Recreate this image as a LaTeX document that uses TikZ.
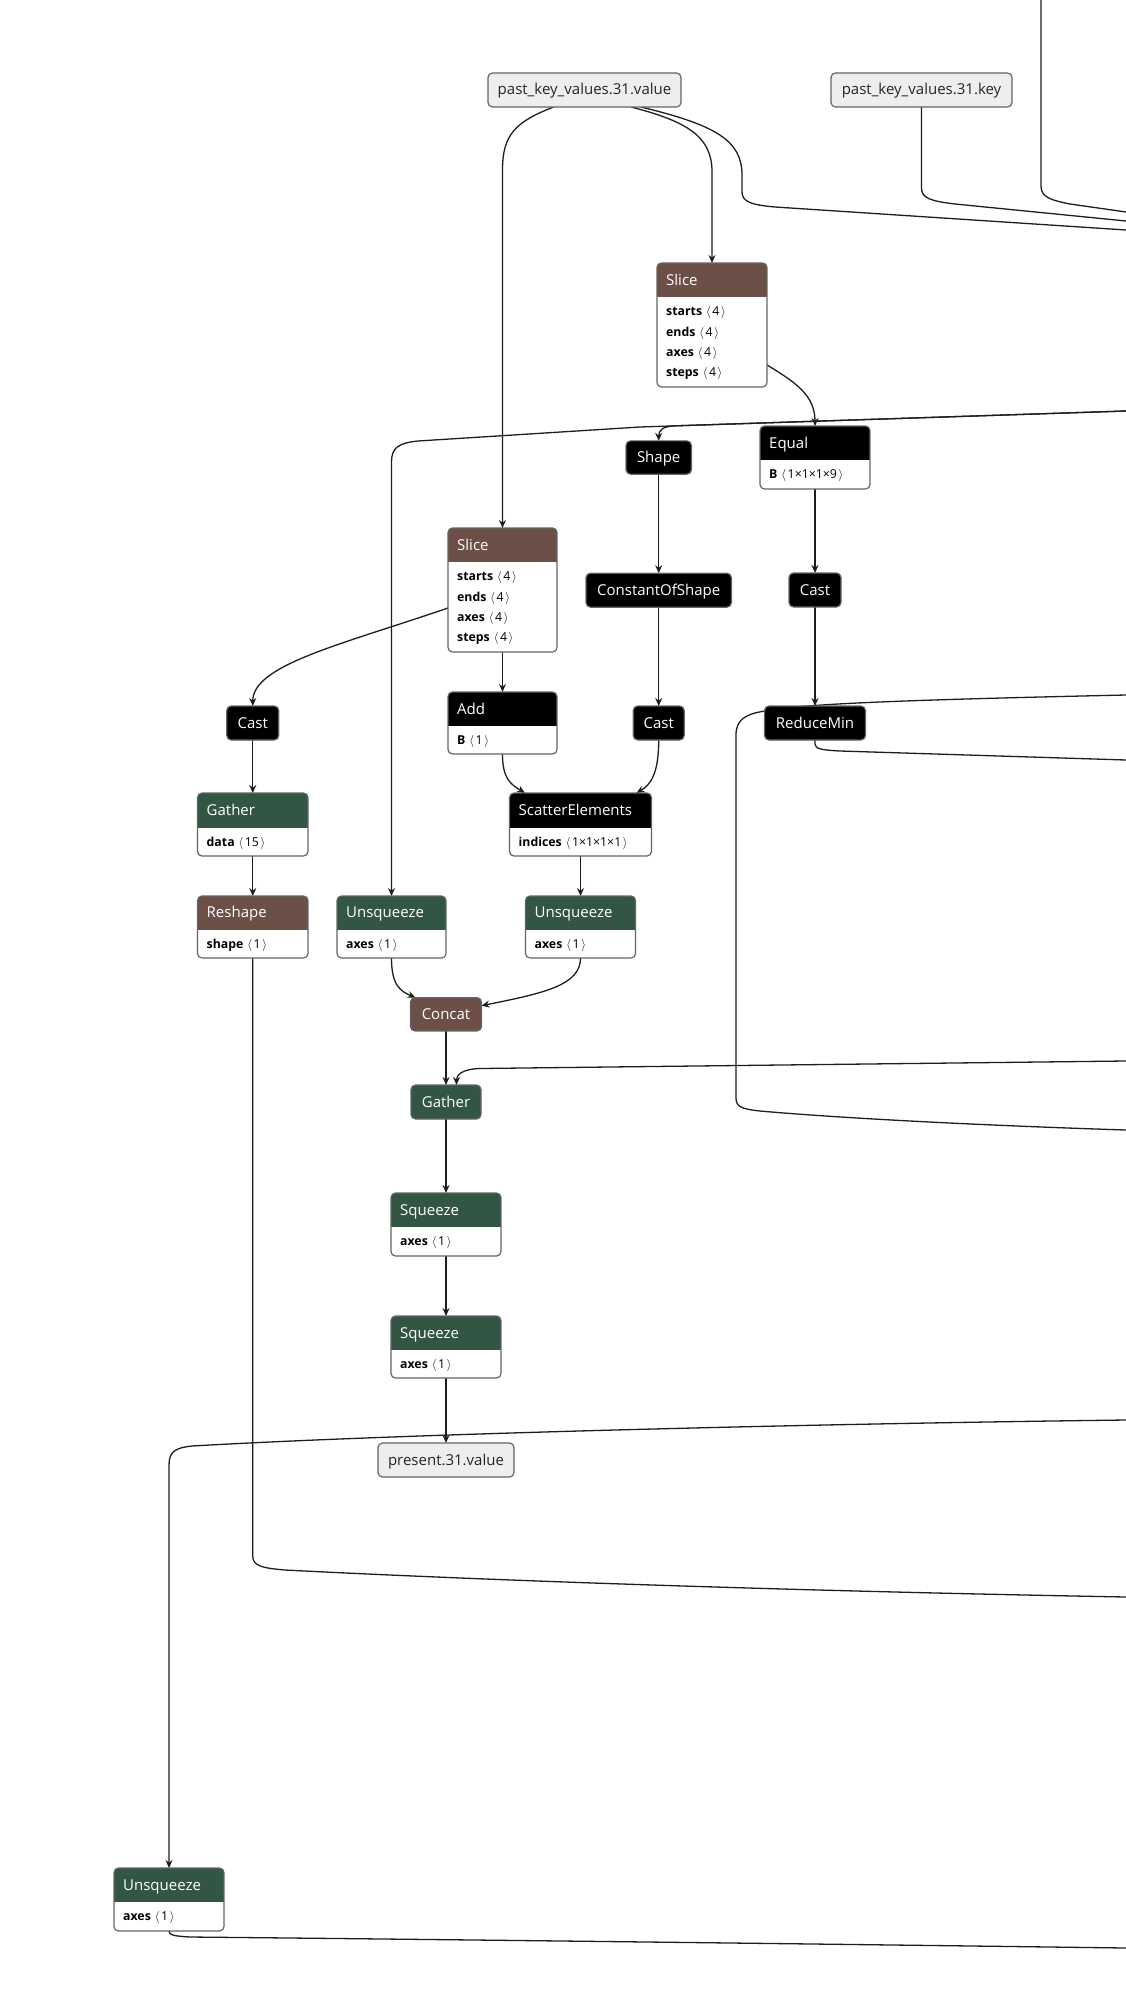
\documentclass[tikz,border=0pt]{standalone}
\usepackage{fontspec}
\setmainfont{Open Sans}
\usetikzlibrary{arrows.meta,calc}
\definecolor{brownh}{RGB}{108,79,71}
\definecolor{greenh}{RGB}{51,85,68}
\definecolor{bordc}{RGB}{100,100,100}
\definecolor{iofill}{RGB}{238,238,238}
\definecolor{edgec}{RGB}{30,30,30}
\pgfdeclarelayer{edges}
\pgfsetlayers{edges,main}
\newcommand\kv[2]{\textbf{#1}\hspace{4pt}$\langle$\kern1.6pt#2\kern1.6pt$\rangle$}
\tikzset{
 edge/.style={draw=edgec, line width=1.3pt, -{Stealth[length=8pt,width=7pt]}},
 plain/.style={draw=edgec, line width=1.3pt},
 frame/.style={draw=none, inner sep=0pt, outer sep=0pt, rectangle},
 titletxt/.style={text=white, font=\fontsize{15}{18}\selectfont, inner sep=0pt, text height=10pt, text depth=0pt},
 attrtxt/.style={text=black, font=\fontsize{12.3}{14}\selectfont, inner sep=0pt, text height=9pt, text depth=3pt},
 simple/.style={draw=bordc, line width=1.2pt, rounded corners=4.5pt, inner sep=0pt, outer sep=0pt, text=white, font=\fontsize{15}{18}\selectfont, text height=10pt, text depth=0pt},
 ionode/.style={draw=bordc, fill=iofill, line width=1.2pt, rounded corners=4.5pt, inner sep=0pt, outer sep=0pt, text=black!85, font=\fontsize{15}{18}\selectfont, text height=10pt, text depth=0pt},
}
% name, left, top, right, bottom, header bottom, colour, title, attributes
\newcommand\opbox[9]{%
  \node[frame, minimum width={#4-#2}, minimum height={#5-#3}, anchor=north west] (#1) at (#2,#3) {};
  \begin{scope}
    \clip[rounded corners=4.5pt] (#2,#3) rectangle (#4,#5);
    \fill[#7] (#2,#3) rectangle (#4,#6);
    \fill[white] (#2,#6) rectangle (#4,#5);
  \end{scope}
  \draw[bordc, line width=1.2pt, rounded corners=4.5pt] (#2,#3) rectangle (#4,#5);
  \node[titletxt, anchor=west] (#1t) at (#2+9,{(#3+#6)/2}) {#8};
  \foreach \atx [count=\i] in {#9} {\node[attrtxt, anchor=west] (#1a\i) at (#2+9,{#6+15.7+(\i-1)*20.4}) {\atx};}
}
\begin{document}
\begin{tikzpicture}[x=1pt,y=-1pt]
\useasboundingbox (0,0) rectangle (1126,1999);

% inputs / outputs
\node[ionode, minimum width=193pt, minimum height=34pt] (val) at (584.5,90) {past\_key\_values.31.value};
\node[ionode, minimum width=181pt, minimum height=34pt] (key) at (921.5,90) {past\_key\_values.31.key};
\node[ionode, minimum width=136pt, minimum height=34pt] (pr) at (446,1460) {present.31.value};

% simple nodes
\node[simple, fill=black, minimum width=65.4pt, minimum height=33.3pt] (sh) at (658.7,457.5) {Shape};
\node[simple, fill=black, minimum width=145.4pt, minimum height=34pt] (co) at (658.7,590.2) {ConstantOfShape};
\node[simple, fill=black, minimum width=51pt, minimum height=34pt] (cm) at (658.7,723) {Cast};
\node[simple, fill=black, minimum width=52pt, minimum height=34pt] (cr) at (815,590) {Cast};
\node[simple, fill=black, minimum width=52pt, minimum height=34pt] (cl) at (252.75,723) {Cast};
\node[simple, fill=black, minimum width=101pt, minimum height=34pt] (rm) at (815,723) {ReduceMin};
\node[simple, fill=brownh, minimum width=71pt, minimum height=33.3pt] (cc) at (446,1014.3) {Concat};
\node[simple, fill=greenh, minimum width=70pt, minimum height=34pt] (gm) at (446,1102) {Gather};

% nodes with attributes
\opbox{s1}{657}{263}{767}{387}{297}{brownh}{Slice}{\kv{starts}{4},\kv{ends}{4},\kv{axes}{4},\kv{steps}{4}}
\opbox{eq}{760}{426}{870}{489}{460}{black}{Equal}{\kv{B}{1×1×1×9}}
\opbox{s2}{448}{528}{557}{652}{562}{brownh}{Slice}{\kv{starts}{4},\kv{ends}{4},\kv{axes}{4},\kv{steps}{4}}
\opbox{ad}{448}{692}{557}{754}{726}{black}{Add}{\kv{B}{1}}
\opbox{gl}{197.5}{793}{308}{856}{828}{greenh}{Gather}{\kv{data}{15}}
\opbox{sc}{509.5}{793}{651.5}{856}{828}{black}{ScatterElements}{\kv{indices}{1×1×1×1}}
\opbox{rs}{197.5}{896}{308}{958}{929.5}{brownh}{Reshape}{\kv{shape}{1}}
\opbox{um}{337}{896}{446}{958}{929.5}{greenh}{Unsqueeze}{\kv{axes}{1}}
\opbox{ur}{525.5}{896}{635.5}{958}{929.5}{greenh}{Unsqueeze}{\kv{axes}{1}}
\opbox{q1}{391}{1193}{501}{1256}{1227}{greenh}{Squeeze}{\kv{axes}{1}}
\opbox{q2}{391}{1316}{501}{1378}{1350}{greenh}{Squeeze}{\kv{axes}{1}}
\opbox{ub}{114}{1868}{224}{1931}{1902}{greenh}{Unsqueeze}{\kv{axes}{1}}

\begin{pgfonlayer}{edges}
\fill[white] (0,0) rectangle (1126,1999);
\coordinate (topc) at (1041,0);
\coordinate (rc) at (1126,212);
\coordinate (rk) at (1126,221);
\coordinate (rv) at (1126,230);
\coordinate (rl) at (1126,411);
\coordinate (ra) at (1126,695);
\coordinate (rmo) at (1126,760);
\coordinate (rg) at (1126,1061);
\coordinate (rb) at (1126,1130);
\coordinate (ru) at (1126,1420);
\coordinate (rr) at (1126,1597);
\coordinate (ro) at (1126,1948);

\draw[plain] (topc) -- (1041,186) .. controls (1041,197) and (1050,200) .. (1070,204) -- (rc);
\draw[plain] (key.south) -- (921.5,188) .. controls (921.5,198) and (930,201) .. (955,204) -- (rk);
\draw[plain] ([xshift=56.5pt]val.south) .. controls (715,125) and (742,140) .. (742,175) -- (742,192) .. controls (742,202) and (752,205) .. (775,207) -- (rv);
\draw[edge] ([xshift=-31pt]val.south) .. controls (515,122) and (502.5,135) .. (502.5,170) -- (s2.north);
\draw[edge] ([xshift=46.5pt]val.south) .. controls (690,122) and (712,138) .. (712,172) -- (s1.north);

\draw[edge] (rl) -- (640,427) -- (418,441) .. controls (398,443) and (391.5,448) .. (391.5,462) -- (um.north);
\draw[edge] (rl) -- (675,425.85) .. controls (663,426.3) and (658.7,430) .. (sh.north);
\draw[edge] ([yshift=22pt]s1.south east) .. controls (795,382) and (815,395) .. (eq.north);

\draw[edge] (sh.south) -- (co.north);
\draw[edge] (eq.south) -- (cr.north);
\draw[edge] (co.south) -- (cm.north);
\draw[edge] (cr.south) -- (rm.north);
\draw[edge] (s2.south) -- (ad.north);
\draw[edge] (cl.south) -- (gl.north);
\draw[edge] (gl.south) -- (rs.north);
\draw[edge] (sc.south) -- (ur.north);
\draw[edge] (cc.south) -- (gm.north);
\draw[edge] (gm.south) -- (q1.north);
\draw[edge] (q1.south) -- (q2.north);
\draw[edge] (q2.south) -- (pr.north);

\draw[edge] ([yshift=44pt]s2.south west) .. controls (340,645) and (252.75,665) .. (cl.north);
\draw[edge] (ad.south) .. controls (502.5,778) and (510,784) .. ([xshift=15.5pt]sc.north west);
\draw[edge] (cm.south) .. controls (658.7,775) and (650,785) .. ([xshift=-15pt]sc.north east);
\draw[edge] (um.south) .. controls (391.5,985) and (400,991) .. ([xshift=5pt]cc.north west);
\draw[edge] (ur.south) .. controls (580.5,985) and (545,993) .. ([yshift=-8pt]cc.north east);
\draw[edge] (rg) -- (480,1068.5) .. controls (462,1069) and (456.5,1075) .. ([xshift=10.5pt]gm.north);

\draw[plain] (ra) .. controls (900,700) and (800,704) .. (765,711) .. controls (745,714) and (736,720) .. (736,735) -- (736,1098) .. controls (736,1107) and (742,1109) .. (760,1111) .. controls (850,1119) and (1000,1126) .. (rb);
\draw[plain] (rm.south) -- (815,744) .. controls (815,749) and (822,750) .. (840,751) -- (rmo);
\draw[plain] (rs.south) -- (252.75,1556) .. controls (252.75,1566) and (262,1568) .. (285,1570) .. controls (500,1581) and (800,1591) .. (rr);
\draw[edge] (ru) .. controls (800,1424) and (400,1434) .. (192,1446) .. controls (173,1448) and (169,1453) .. (169,1466) -- (ub.north);
\draw[plain] (ub.south) .. controls (169,1935) and (173,1936) .. (190,1937) .. controls (500,1940) and (900,1945) .. (ro);
\end{pgfonlayer}
\end{tikzpicture}
\end{document}
